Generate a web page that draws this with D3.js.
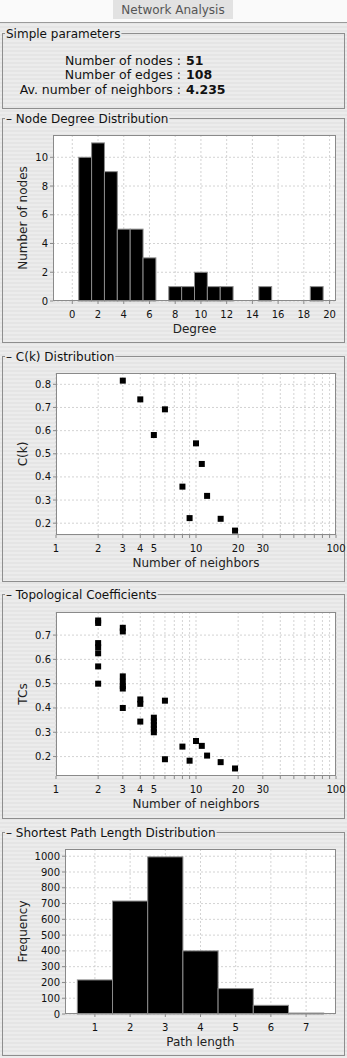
<!DOCTYPE html>
<html><head><meta charset="utf-8">
<script src="https://cdn.jsdelivr.net/npm/d3@7"></script>
<style>
body{margin:0;background:#fff}
svg{display:block;font-family:"DejaVu Sans",sans-serif}
</style>
</head><body>
<svg id="c" width="347" height="1058"></svg>
<script>
// ---- data ----
const tabTitle = "Network Analysis";
const paramLabels = ["Number of nodes", "Number of edges", "Av. number of neighbors"];
const paramValues = ["51", "108", "4.235"];

const degreeValues = [0, 1, 2, 3, 4, 5, 6, 8, 9, 10, 11, 12, 15, 19];
const degreeCounts = [0, 10, 11, 9, 5, 5, 3, 1, 1, 2, 1, 1, 1, 1];
const degreeTicks = [0, 2, 4, 6, 8, 10, 12, 14, 16, 18, 20];
const degreeCountTicks = [0, 2, 4, 6, 8, 10];

const ckNeighbors = [3, 4, 5, 6, 8, 9, 10, 11, 12, 15, 19];
const ckValues = [0.816, 0.735, 0.581, 0.692, 0.358, 0.222, 0.545, 0.456, 0.318, 0.219, 0.168];
const ckTicks = [0.2, 0.3, 0.4, 0.5, 0.6, 0.7, 0.8];
const ckRange = [0.149, 0.849];

const tcNeighbors = [2, 2, 2, 2, 2, 2, 2, 3, 3, 3, 3, 3, 3, 3, 4, 4, 4, 5, 5, 5, 5, 5, 6, 6, 8, 9, 10, 11, 12, 15, 19];
const tcValues = [0.76, 0.75, 0.667, 0.65, 0.625, 0.571, 0.5,
  0.73, 0.715, 0.53, 0.508, 0.49, 0.48, 0.40,
  0.435, 0.417, 0.344,
  0.36, 0.345, 0.33, 0.315, 0.30,
  0.43, 0.189,
  0.241, 0.183, 0.264, 0.244, 0.204, 0.177, 0.151];
const tcTicks = [0.2, 0.3, 0.4, 0.5, 0.6, 0.7];
const tcRange = [0.12, 0.795];

const logLabelTicks = [1, 2, 3, 4, 5, 10, 20, 30, 100];
const logGridTicks = [1, 2, 3, 4, 5, 6, 7, 8, 9, 10, 20, 30, 40, 50, 60, 70, 80, 90, 100];

const pathLengths = [1, 2, 3, 4, 5, 6, 7];
const pathFreq = [216, 716, 996, 400, 161, 55, 6];
const pathFreqTicks = [0, 100, 200, 300, 400, 500, 600, 700, 800, 900, 1000];

// ---- drawing ----
const svg = d3.select("#c");
const W = 347, H = 1058;
const defs = svg.append("defs");
const pat = defs.append("pattern").attr("id", "stripe").attr("width", 4).attr("height", 4).attr("patternUnits", "userSpaceOnUse");
pat.append("rect").attr("width", 4).attr("height", 2).attr("fill", "#ececec");
pat.append("rect").attr("y", 2).attr("width", 4).attr("height", 2).attr("fill", "#e5e5e5");

svg.append("rect").attr("width", W).attr("height", H).attr("fill", "url(#stripe)");
svg.append("rect").attr("width", W).attr("height", 22).attr("fill", "#fafafa");
svg.append("line").attr("x1", 0).attr("x2", W).attr("y1", 22.5).attr("y2", 22.5).attr("stroke", "#9a9a9a");
svg.append("rect").attr("x", 113).attr("y", 0).attr("width", 120).attr("height", 19).attr("fill", "#e2e2e2");
svg.append("text").attr("x", 173).attr("y", 14).attr("text-anchor", "middle")
  .attr("font-size", 12).attr("fill", "#555").text(tabTitle);

function panel(title, top, bottom) {
  svg.append("rect").attr("x", 2.5).attr("y", top + 0.5).attr("width", 342).attr("height", bottom - top)
    .attr("fill", "none").attr("stroke", "#8e8e8e");
  const t = svg.append("text").attr("x", 6).attr("y", top + 4.5).attr("font-size", 12).attr("fill", "#111").text(title);
  const bb = t.node().getBBox();
  svg.insert("rect", "text:last-of-type").attr("x", bb.x - 1).attr("y", top - 3).attr("width", bb.width + 2).attr("height", 7).attr("fill", "#e9e9e9");
  t.raise();
}

panel("Simple parameters", 33, 108);
panel("– Node Degree Distribution", 118, 342);
panel("– C(k) Distribution", 356, 581);
panel("– Topological Coefficients", 594, 818);
panel("– Shortest Path Length Distribution", 832, 1055);

// simple parameters
const pg = svg.append("g");
paramLabels.forEach((lab, i) => {
  const y = 64.5 + i * 14.5;
  pg.append("text").attr("x", 181).attr("y", y).attr("text-anchor", "end").attr("font-size", 12.5).attr("fill", "#111").text(lab + " :");
  pg.append("text").attr("x", 186).attr("y", y).attr("font-size", 12.5).attr("font-weight", "bold").attr("fill", "#111").text(paramValues[i]);
});

function frame(box, x, y, xGrid, yGrid, xLabels, yLabels, xFmt, yFmt, xTitle, yTitle) {
  const g = svg.append("g");
  g.append("rect").attr("x", box.L).attr("y", box.T).attr("width", box.R - box.L).attr("height", box.B - box.T).attr("fill", "#fff");
  g.selectAll(".vg").data(xGrid).join("line")
    .attr("x1", d => x(d)).attr("x2", d => x(d)).attr("y1", box.T).attr("y2", box.B)
    .attr("stroke", "#c8c8c8").attr("stroke-width", 0.8).attr("stroke-dasharray", "2,2");
  g.selectAll(".hg").data(yGrid).join("line")
    .attr("y1", d => y(d)).attr("y2", d => y(d)).attr("x1", box.L).attr("x2", box.R)
    .attr("stroke", "#c8c8c8").attr("stroke-width", 0.8).attr("stroke-dasharray", "2,2");
  g.selectAll(".xt").data(xGrid).join("line")
    .attr("x1", d => x(d)).attr("x2", d => x(d)).attr("y1", box.B).attr("y2", box.B + 3).attr("stroke", "#8a8a8a");
  g.selectAll(".yt").data(yGrid).join("line")
    .attr("y1", d => y(d)).attr("y2", d => y(d)).attr("x1", box.L - 3).attr("x2", box.L).attr("stroke", "#8a8a8a");
  g.selectAll(".xl").data(xLabels).join("text")
    .attr("x", d => x(d)).attr("y", box.B + 17).attr("text-anchor", "middle").attr("font-size", 10).attr("fill", "#111").text(xFmt);
  g.selectAll(".yl").data(yLabels).join("text")
    .attr("x", box.L - 5).attr("y", d => y(d) + 3.5).attr("text-anchor", "end").attr("font-size", 10).attr("fill", "#111").text(yFmt);
  g.append("text").attr("x", (box.L + box.R) / 2).attr("y", box.B + 32).attr("text-anchor", "middle").attr("font-size", 12).attr("fill", "#222").text(xTitle);
  g.append("text").attr("transform", `translate(27,${(box.T + box.B) / 2}) rotate(-90)`).attr("text-anchor", "middle").attr("font-size", 12).attr("fill", "#222").text(yTitle);
  return g;
}
function border(box) {
  svg.append("rect").attr("x", box.L + 0.5).attr("y", box.T + 0.5).attr("width", box.R - box.L - 1).attr("height", box.B - box.T - 1)
    .attr("fill", "none").attr("stroke", "#8a8a8a");
}

function histogram(box, xs, ys, xTicks, yTicks, xTitle, yTitle, yTickFmt) {
  const lo = d3.min(xs) - 0.5, hi = d3.max(xs) + 0.5, pad = (hi - lo) * 0.05;
  const x = d3.scaleLinear().domain([lo - pad, hi + pad]).range([box.L, box.R]);
  const y = d3.scaleLinear().domain([0, d3.max(ys) * 1.05]).range([box.B, box.T]);
  frame(box, x, y, xTicks, yTicks, xTicks, yTicks, d => d, yTickFmt, xTitle, yTitle);
  const data = xs.map((d, i) => ({ d, c: ys[i] })).filter(o => o.c > 0);
  svg.append("g").selectAll("rect").data(data).join("rect")
    .attr("x", o => x(o.d - 0.5)).attr("width", o => x(o.d + 0.5) - x(o.d - 0.5))
    .attr("y", o => y(o.c)).attr("height", o => y(0) - y(o.c))
    .attr("fill", "#000").attr("stroke", "#8c8c8c").attr("stroke-width", 1);
  border(box);
}

function scatter(box, xs, ys, yTicks, yRange, xTitle, yTitle) {
  const x = d3.scaleLog().domain([1, 100]).range([box.L, box.R]);
  const y = d3.scaleLinear().domain(yRange).range([box.B, box.T]);
  frame(box, x, y, logGridTicks, yTicks, logLabelTicks, yTicks, d => d, d => d3.format(".1f")(d), xTitle, yTitle);
  border(box);
  svg.append("g").selectAll("rect").data(xs.map((d, i) => [d, ys[i]])).join("rect")
    .attr("x", p => x(p[0]) - 3).attr("y", p => y(p[1]) - 3).attr("width", 6).attr("height", 6).attr("fill", "#000");
}

histogram({ L: 53, R: 336, T: 135, B: 301 }, degreeValues, degreeCounts, degreeTicks, degreeCountTicks, "Degree", "Number of nodes", d => d);
scatter({ L: 56, R: 336, T: 373, B: 535 }, ckNeighbors, ckValues, ckTicks, ckRange, "Number of neighbors", "C(k)");
scatter({ L: 56, R: 336, T: 612, B: 776 }, tcNeighbors, tcValues, tcTicks, tcRange, "Number of neighbors", "TCs");
histogram({ L: 65, R: 336, T: 849, B: 1014 }, pathLengths, pathFreq, pathLengths, pathFreqTicks, "Path length", "Frequency", d => d);
</script>
</body></html>
